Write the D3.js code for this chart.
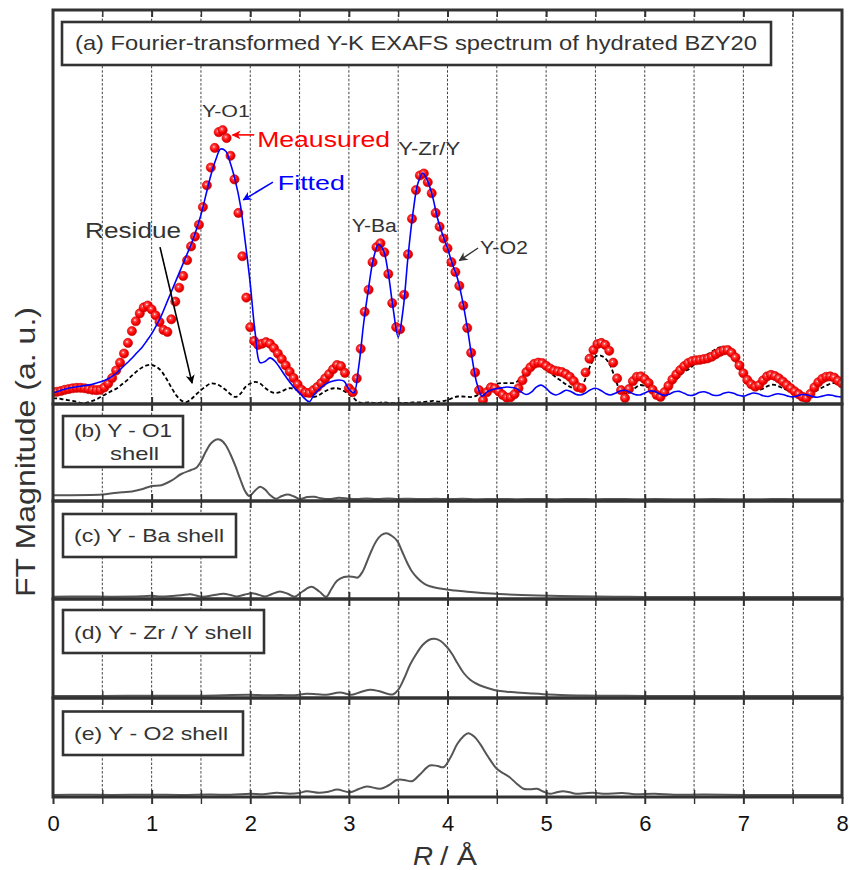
<!DOCTYPE html>
<html>
<head>
<meta charset="utf-8">
<script src="https://cdn.jsdelivr.net/npm/d3@7"></script>
<style>
    body { margin: 0; background: #ffffff; }
    svg { display: block; font-family: Arial, 'Liberation Sans', Helvetica, sans-serif; }
</style>
</head>
<body>
<svg id="chart" width="850" height="870"></svg>
<script>
'use strict';

/* ---------------- data (arbitrary units) ---------------- */

// measured |FT| (red balls), one value every 0.04 A starting at R = 0
var measuredStep = 0.04;
var measured = [
    3.0, 3.1, 3.3, 3.6, 3.8, 4.0, 4.1, 4.1, 4.0, 3.8,
    3.6, 3.5, 3.6, 4.2, 5.2, 6.6, 8.5, 10.5, 12.8, 15.5,
    18.5, 21.0, 23.0, 24.5, 25.0, 24.0, 22.5, 20.8, 18.8, 18.3,
    21.5, 26.0, 29.5, 32.5, 36.5, 40.0, 42.5, 45.5, 50.0, 55.5,
    60.0, 65.0, 69.0, 69.5, 67.5, 63.0, 57.0, 48.5, 37.5, 27.0,
    19.5, 16.0, 15.0, 15.3, 15.7, 15.3, 14.2, 12.8, 11.4, 9.8,
    8.2, 6.6, 5.0, 3.6, 2.9, 2.8, 3.5, 4.3, 5.3, 6.5,
    7.6, 8.8, 9.9, 9.6, 7.9, 4.0, 3.0, 6.5, 14.0, 23.4,
    29.0, 36.0, 39.8, 40.8, 38.5, 33.0, 25.6, 19.5, 19.0, 27.7,
    38.0, 47.0, 54.3, 58.0, 58.5, 56.3, 53.5, 48.5, 45.0, 42.0,
    39.5, 36.0, 33.5, 30.0, 25.0, 19.3, 13.0, 8.0, 3.5, 1.0,
    3.0, 4.2, 4.0, 3.2, 2.3, 1.6, 1.7, 2.5, 4.0, 6.0,
    8.1, 9.3, 10.2, 10.5, 10.4, 9.7, 9.0, 8.5, 8.3, 8.1,
    7.6, 6.9, 5.8, 4.3, 4.0, 8.0, 11.5, 13.7, 15.2, 15.5,
    15.0, 13.5, 10.5, 6.5, 3.5, 1.5, 3.8, 5.8, 6.9, 7.0,
    6.3, 5.3, 3.6, 2.3, 1.8, 3.0, 4.6, 6.2, 7.5, 8.6,
    9.6, 10.4, 10.9, 11.1, 11.2, 11.4, 11.6, 12.0, 12.6, 13.2,
    13.6, 13.7, 13.0, 11.8, 9.8, 7.8, 6.1, 5.0, 4.4, 4.8,
    6.0, 7.0, 7.4, 7.1, 6.5, 5.7, 4.8, 4.0, 3.2, 2.5,
    1.8, 1.5, 2.6, 4.2, 5.5, 6.4, 6.9, 7.0, 6.7, 5.9,
    5.2
];

// fitted curve (blue) and residue (black dashed), one value every 0.05 A
var curveStep = 0.05;
var fitted = [
    2.8, 3.2, 3.6, 4.0, 4.2, 4.4, 4.6, 4.8, 5.0, 5.4,
    5.8, 6.3, 7.0, 8.0, 9.2, 10.4, 11.6, 13.0, 14.3, 16.0,
    17.8, 20.0, 22.5, 25.5, 28.5, 31.5, 34.5, 37.5, 40.5, 44.0,
    48.0, 53.0, 58.0, 62.0, 64.7, 64.2, 61.0, 56.5, 50.5, 41.0,
    30.5, 18.0, 10.5, 10.8, 11.7, 10.9, 9.2, 7.3, 5.6, 4.0,
    2.8, 1.4, 0.6, 2.5, 3.8, 4.8, 5.5, 5.9, 6.1, 5.8,
    3.8, 2.8, 9.5, 20.5, 29.5, 37.0, 40.5, 39.0, 33.0, 24.0,
    17.0, 24.0, 37.5, 48.5, 56.0, 58.6, 56.5, 52.5, 47.0, 43.0,
    39.5, 35.5, 32.0, 26.5, 19.5, 11.5, 5.0, 2.0, 3.0, 3.6,
    3.9, 4.1, 4.3, 4.2, 3.9, 3.0, 2.4, 3.0, 4.3, 4.8,
    4.0, 2.8, 2.3, 2.8, 3.5, 3.2, 2.5, 2.3, 2.8, 3.6,
    4.0, 3.5, 2.7, 2.3, 2.7, 3.3, 3.5, 3.0, 2.4, 2.3,
    2.8, 3.3, 3.2, 2.6, 2.2, 2.5, 3.1, 3.2, 2.7, 2.2,
    2.3, 2.9, 3.1, 2.7, 2.2, 2.2, 2.7, 3.0, 2.7, 2.2,
    2.0, 2.4, 2.8, 2.6, 2.1, 1.9, 2.3, 2.6, 2.4, 2.0,
    1.8, 2.1, 2.4, 2.3, 1.9, 1.7, 2.0, 2.3, 2.2, 1.9,
    1.8
];
var residue = [
    1.5, 1.4, 1.2, 1.0, 0.8, 0.5, 0.2, 0.4, 0.8, 1.3,
    2.0, 2.7, 3.4, 4.0, 5.0, 6.0, 7.2, 8.3, 9.2, 9.8,
    9.9, 9.4, 8.3, 6.4, 4.2, 2.2, 0.9, 0.5, 1.2, 2.4,
    3.5, 4.5, 5.2, 5.1, 4.5, 3.6, 2.5, 1.8, 2.6, 4.3,
    5.2, 5.6, 5.2, 4.1, 3.2, 2.8, 3.0, 3.6, 4.0, 3.8,
    3.2, 2.7, 2.1, 1.8, 2.3, 3.1, 3.7, 4.0, 3.9, 3.3,
    2.5, 1.5, 0.4, 0.3, 0.4, 0.3, 0.3, 0.4, 0.3, 0.2,
    0.3, 0.3, 0.3, 0.4, 0.4, 0.5, 0.6, 0.8, 0.6, 0.7,
    1.0, 1.5, 1.9, 1.9, 1.8, 1.8, 2.2, 3.2, 4.0, 4.6,
    5.1, 5.3, 5.3, 5.3, 5.6, 6.7, 7.9, 9.0, 9.9, 9.6,
    8.8, 7.8, 6.8, 5.9, 5.0, 4.3, 4.0, 4.2, 6.5, 9.8,
    12.0, 12.3, 11.6, 9.8, 6.5, 3.5, 2.7, 3.0, 4.0, 4.8,
    4.6, 4.0, 3.0, 2.3, 2.8, 4.2, 5.6, 7.0, 8.2, 8.9,
    10.0, 11.0, 11.9, 12.8, 13.6, 14.3, 14.4, 13.6, 11.8, 9.4,
    7.2, 5.3, 4.0, 3.5, 3.9, 4.6, 4.9, 4.6, 4.0, 3.5,
    3.0, 2.7, 2.4, 2.3, 2.7, 3.5, 4.2, 4.8, 5.3, 5.2,
    4.8
];

// single-shell contributions, [R, |FT|] pairs
var shellO1 = [
    [0, 4.3], [0.5, 5.0], [0.6, 6.2], [0.7, 7.2], [0.8, 8.0], [0.9, 10.2], [1.0, 13.5],
    [1.1, 14.3], [1.2, 18.8], [1.3, 25.5], [1.4, 29.5], [1.45, 31.5], [1.5, 38], [1.55, 48],
    [1.6, 56], [1.65, 59.8], [1.7, 59.5], [1.75, 54.5], [1.8, 45], [1.85, 33.3], [1.9, 20],
    [1.95, 8], [1.99, 3.5], [2.05, 9], [2.1, 12.7], [2.15, 10], [2.2, 4.5], [2.26, 0.8],
    [2.32, 3.5], [2.38, 5], [2.44, 3.2], [2.5, 0.5], [2.58, 2.4], [2.65, 2.7], [2.72, 1.2],
    [2.8, 0.4], [2.9, 1.8], [3.0, 0.8], [3.08, 0.4], [3.18, 1.1], [3.28, 0.4], [3.4, 0.9],
    [3.5, 0.5], [3.62, 0.8], [3.75, 0.4], [3.88, 0.8], [4.0, 0.4], [4.15, 0.7], [4.3, 0.3],
    [4.5, 0.6], [4.7, 0.3], [4.9, 0.5], [5.1, 0.3], [5.3, 0.5], [5.5, 0.3], [5.7, 0.5],
    [5.9, 0.3], [6.1, 0.4], [6.4, 0.3], [6.7, 0.4], [7.0, 0.3], [7.3, 0.4], [7.6, 0.3], [8.0, 0.3]
];
var shellBa = [
    [0, 0.8], [0.3, 1.0], [0.6, 0.8], [0.9, 1.2], [1.0, 1.7], [1.1, 1.0], [1.2, 1.5], [1.3, 2.2],
    [1.39, 3.3], [1.46, 1.8], [1.52, 0.7], [1.62, 2.2], [1.73, 3.7], [1.8, 2.5], [1.86, 1.0],
    [1.94, 2.8], [2.02, 4.3], [2.09, 2.6], [2.15, 1.0], [2.22, 3.5], [2.3, 6.0], [2.38, 3.8],
    [2.45, 0.8], [2.53, 6.0], [2.62, 10.7], [2.7, 6.0], [2.77, 0.7], [2.82, 8.0], [2.88, 16.7],
    [2.95, 20.5], [3.0, 21], [3.05, 20.5], [3.09, 20], [3.14, 26], [3.18, 35], [3.23, 47],
    [3.28, 56.7], [3.33, 62.5], [3.38, 64.3], [3.43, 62], [3.49, 56.7], [3.54, 46], [3.59, 35],
    [3.64, 26], [3.69, 20], [3.74, 15.5], [3.79, 12.4], [3.87, 10], [3.96, 8.4], [4.08, 7],
    [4.2, 5.7], [4.35, 4.5], [4.53, 3.4], [4.75, 2.5], [5.04, 1.7], [5.3, 1.2], [5.7, 0.7],
    [6.0, 0.6], [6.5, 0.5], [7.0, 0.6], [7.5, 0.5], [8.0, 0.5]
];
var shellZrY = [
    [0, 0.5], [0.5, 0.6], [1.0, 0.7], [1.5, 0.8], [2.0, 1.7], [2.15, 1.2], [2.3, 1.5], [2.45, 1.3],
    [2.57, 2.7], [2.68, 2.2], [2.77, 1.7], [2.91, 4.0], [3.03, 1.7], [3.12, 4.5], [3.21, 6.7],
    [3.3, 5.5], [3.4, 2.5], [3.45, 2.3], [3.5, 6.7], [3.56, 18], [3.62, 31.7], [3.68, 42],
    [3.75, 51.7], [3.81, 56.5], [3.87, 57.7], [3.93, 55.5], [3.99, 50], [4.05, 42], [4.1, 33.4],
    [4.16, 24], [4.23, 16.7], [4.3, 12.5], [4.36, 10], [4.43, 7.8], [4.5, 6], [4.6, 4.8],
    [4.7, 4], [4.85, 3], [4.97, 2.3], [5.15, 1.6], [5.37, 1.0], [5.7, 0.7], [6.0, 0.6],
    [6.5, 0.5], [7.0, 0.5], [7.5, 0.4], [8.0, 0.4]
];
var shellO2 = [
    [0, 0.5], [0.3, 0.7], [0.6, 0.5], [1.0, 0.8], [1.3, 0.6], [1.6, 1.0], [1.8, 0.7], [2.0, 1.7],
    [2.13, 1.2], [2.27, 2.7], [2.4, 1.7], [2.5, 2.5], [2.57, 4.3], [2.7, 2.7], [2.8, 4.0],
    [2.88, 6], [3.01, 3.3], [3.1, 6.5], [3.18, 9], [3.32, 6.7], [3.4, 10], [3.49, 15.7],
    [3.56, 15.5], [3.64, 14.3], [3.72, 21], [3.82, 30], [3.9, 29.5], [3.96, 28.3], [4.03, 38],
    [4.1, 51.7], [4.16, 59], [4.21, 62.3], [4.27, 59], [4.33, 51.7], [4.41, 39], [4.5, 26.7],
    [4.57, 22], [4.63, 18.3], [4.7, 12], [4.77, 6.7], [4.84, 6.3], [4.91, 6.7], [4.97, 4],
    [5.04, 1.7], [5.1, 3], [5.17, 4.3], [5.24, 3.2], [5.3, 1.7], [5.39, 2.2], [5.47, 2.7],
    [5.53, 2.2], [5.6, 1.7], [5.77, 2.5], [5.9, 1.3], [6.1, 1.8], [6.3, 0.8], [6.6, 1.0],
    [7.0, 0.6], [7.5, 0.5], [8.0, 0.4]
];

var tickLabels = [0, 1, 2, 3, 4, 5, 6, 7, 8];
var halfSteps = [0.5, 1, 1.5, 2, 2.5, 3, 3.5, 4, 4.5, 5, 5.5, 6, 6.5, 7, 7.5];

/* ---------------- layout ---------------- */

var ink = '#333333';
var left = 53;
var right = 842;
// top edge of panels a..e and bottom edge of the stack
var panelEdges = [10, 404, 501, 599, 698, 797];

var svg = d3.select('#chart');
var defs = svg.append('defs');

var x = d3.scaleLinear().domain([0, 8]).range([left, right]);
var yTop = d3.scaleLinear().domain([0, 100]).range([panelEdges[1], panelEdges[0]]);

/**
 * Append a text, optionally stretched to a given width
 */
var addText = function(parent, str, px, py, size, width, color) {
    var t = parent.append('text')
            .attr('x', px)
            .attr('y', py)
            .attr('font-size', size)
            .attr('fill', color || ink)
            .text(str);
    if (width) {
        t.attr('textLength', width).attr('lengthAdjust', 'spacingAndGlyphs');
    }
    return t;
};

// red ball gradient for measured points
var grad = defs.append('radialGradient')
        .attr('id', 'ball')
        .attr('cx', '40%').attr('cy', '38%').attr('r', '62%');
grad.append('stop').attr('offset', '0%').attr('stop-color', '#ffffff');
grad.append('stop').attr('offset', '22%').attr('stop-color', '#ff4a4a');
grad.append('stop').attr('offset', '65%').attr('stop-color', '#ff0000');
grad.append('stop').attr('offset', '100%').attr('stop-color', '#c80000');

// arrow heads
[['arrRed', '#ff0000'], ['arrBlue', '#0000ff'], ['arrBlack', '#000000'], ['arrGray', ink]].forEach(function(m) {
    defs.append('marker')
            .attr('id', m[0])
            .attr('viewBox', '0 0 10 10')
            .attr('refX', 9)
            .attr('refY', 5)
            .attr('markerWidth', 11)
            .attr('markerHeight', 9)
            .attr('markerUnits', 'userSpaceOnUse')
            .attr('orient', 'auto')
            .append('path')
            .attr('d', 'M0,0 L10,5 L0,10 L3,5 Z')
            .attr('fill', m[1]);
});

// clip paths, one per panel
for (var _p = 0; _p < 5; _p++) {
    defs.append('clipPath')
            .attr('id', 'clip' + _p)
            .append('rect')
            .attr('x', left)
            .attr('y', panelEdges[_p])
            .attr('width', right - left)
            .attr('height', panelEdges[_p + 1] - panelEdges[_p]);
}

/* ---------------- grid lines ---------------- */

var grid = svg.append('g');
for (var _g = 0; _g < 5; _g++) {
    grid.selectAll('line.g' + _g)
            .data(halfSteps)
            .enter()
            .append('line')
            .attr('class', 'g' + _g)
            .attr('x1', function(d) { return x(d); })
            .attr('x2', function(d) { return x(d); })
            .attr('y1', panelEdges[_g])
            .attr('y2', panelEdges[_g + 1])
            .attr('stroke', '#444')
            .attr('stroke-width', 1)
            .attr('stroke-dasharray', '2.5,1.8');
}

/* ---------------- panel (a) ---------------- */

var pa = svg.append('g').attr('clip-path', 'url(#clip0)');

var measuredPts = measured.map(function(v, i) { return [i * measuredStep, v]; });
var fittedPts = fitted.map(function(v, i) { return [i * curveStep, v]; });
var residuePts = residue.map(function(v, i) { return [i * curveStep, v]; });

var lineTop = d3.line()
        .x(function(d) { return x(d[0]); })
        .y(function(d) { return yTop(d[1]); })
        .curve(d3.curveCatmullRom);

pa.append('path')
        .datum(residuePts)
        .attr('d', lineTop)
        .attr('fill', 'none')
        .attr('stroke', '#000')
        .attr('stroke-width', 1.8)
        .attr('stroke-dasharray', '4,2.5');

pa.selectAll('circle.meas')
        .data(measuredPts)
        .enter()
        .append('circle')
        .attr('class', 'meas')
        .attr('cx', function(d) { return x(d[0]); })
        .attr('cy', function(d) { return yTop(d[1]); })
        .attr('r', 4.6)
        .attr('fill', 'url(#ball)')
        .attr('stroke', '#d00000')
        .attr('stroke-width', 0.6);

pa.append('path')
        .datum(fittedPts)
        .attr('d', lineTop)
        .attr('fill', 'none')
        .attr('stroke', '#0000ff')
        .attr('stroke-width', 1.6);

// annotations of panel (a), placed in data units
var ann = svg.append('g');
ann.append('rect')
        .attr('x', 62).attr('y', 22).attr('width', 709).attr('height', 43)
        .attr('fill', '#fff').attr('stroke', ink).attr('stroke-width', 2.6);
addText(ann, '(a) Fourier-transformed Y-K EXAFS spectrum of hydrated BZY20', 75, 50, 21, 682);

addText(ann, 'Y-O1', x(1.51), yTop(72.8), 17, 48);
addText(ann, 'Meausured', x(2.07), yTop(65.2), 22, 133, '#ff0000');
addText(ann, 'Fitted', x(2.28), yTop(54.3), 21, 67, '#0000ff');
addText(ann, 'Residue', x(0.325), yTop(42.1), 22, 96);
addText(ann, 'Y-Ba', x(3.03), yTop(43.7), 18, 45);
addText(ann, 'Y-Zr/Y', x(3.5), yTop(63.2), 18, 62);
addText(ann, 'Y-O2', x(4.33), yTop(38.1), 18, 48);

var arrows = [
    {from: [2.04, 68.3], to: [1.82, 68.3], marker: 'arrRed', color: '#ff0000', w: 1.6},
    {from: [2.23, 56.3], to: [1.93, 51.8], marker: 'arrBlue', color: '#0000ff', w: 1.6},
    {from: [1.085, 39.8], to: [1.41, 5.3], marker: 'arrBlack', color: '#000000', w: 1.6},
    {from: [4.31, 39.6], to: [4.12, 36.4], marker: 'arrGray', color: ink, w: 1.4}
];
ann.selectAll('line.arrow')
        .data(arrows)
        .enter()
        .append('line')
        .attr('class', 'arrow')
        .attr('x1', function(d) { return x(d.from[0]); })
        .attr('y1', function(d) { return yTop(d.from[1]); })
        .attr('x2', function(d) { return x(d.to[0]); })
        .attr('y2', function(d) { return yTop(d.to[1]); })
        .attr('stroke', function(d) { return d.color; })
        .attr('stroke-width', function(d) { return d.w; })
        .attr('marker-end', function(d) { return 'url(#' + d.marker + ')'; });

/* ---------------- panels (b)-(e) ---------------- */

var shells = [shellO1, shellBa, shellZrY, shellO2];
shells.forEach(function(shell, i) {
    var bottom = panelEdges[i + 2];
    var yShell = d3.scaleLinear().domain([0, 100]).range([bottom - 1.5, bottom - 101.5]);
    svg.append('g')
            .attr('clip-path', 'url(#clip' + (i + 1) + ')')
            .append('path')
            .datum(shell)
            .attr('d', d3.line()
                    .x(function(d) { return x(d[0]); })
                    .y(function(d) { return yShell(d[1]); })
                    .curve(d3.curveCatmullRom))
            .attr('fill', 'none')
            .attr('stroke', '#555')
            .attr('stroke-width', 2);
});

// shell label boxes
var boxes = [
    {x: 63, y: 416, w: 120, h: 51, lines: [['(b) Y - O1', 74, 437, 98], ['shell', 110, 460, 49]]},
    {x: 63, y: 514, w: 173, h: 43, lines: [['(c) Y - Ba shell', 74, 542, 150]]},
    {x: 63, y: 610, w: 201, h: 43, lines: [['(d) Y - Zr / Y shell', 74, 638.5, 178]]},
    {x: 63, y: 711.5, w: 180, h: 43.5, lines: [['(e) Y - O2 shell', 74, 739.5, 154]]}
];
boxes.forEach(function(b) {
    var g = svg.append('g');
    g.append('rect')
            .attr('x', b.x).attr('y', b.y).attr('width', b.w).attr('height', b.h)
            .attr('fill', '#fff').attr('stroke', ink).attr('stroke-width', 2.6);
    b.lines.forEach(function(l) {
        addText(g, l[0], l[1], l[2], 19, l[3]);
    });
});

/* ---------------- frames and ticks ---------------- */

var frame = svg.append('g');
for (var _f = 0; _f < 5; _f++) {
    var edgeTop = panelEdges[_f];
    var edgeBot = panelEdges[_f + 1];
    // inward ticks on top and bottom edges
    frame.append('g')
            .attr('transform', 'translate(0,' + edgeTop + ')')
            .call(d3.axisBottom(x).tickValues(halfSteps).tickSize(7).tickFormat(''));
    frame.append('g')
            .attr('transform', 'translate(0,' + edgeBot + ')')
            .call(d3.axisTop(x).tickValues(halfSteps).tickSize(7).tickFormat(''));
    frame.append('rect')
            .attr('x', left).attr('y', edgeTop)
            .attr('width', right - left).attr('height', edgeBot - edgeTop)
            .attr('fill', 'none').attr('stroke', ink).attr('stroke-width', 3);
}
frame.selectAll('.domain').remove();
frame.selectAll('.tick line')
        .attr('stroke', ink)
        .attr('stroke-width', function(d) { return d % 1 === 0 ? 2 : 1.4; });

// bottom axis with outward ticks and labels
var xAxis = svg.append('g')
        .attr('transform', 'translate(0,' + panelEdges[5] + ')')
        .call(d3.axisBottom(x)
                .tickValues([0].concat(halfSteps, [8]))
                .tickSize(7)
                .tickPadding(11)
                .tickFormat(function(d) { return tickLabels.indexOf(d) >= 0 ? d : ''; }));
xAxis.select('.domain').remove();
xAxis.selectAll('.tick line')
        .attr('stroke', ink)
        .attr('stroke-width', function(d) { return d % 1 === 0 ? 2 : 1.4; });
xAxis.selectAll('.tick text')
        .attr('font-family', 'Arial, Liberation Sans, sans-serif')
        .attr('font-size', 22)
        .attr('fill', '#111');

/* ---------------- axis titles ---------------- */

addText(svg, 'FT Magnitude (a. u.)', 35, 597, 28, 290)
        .attr('transform', 'rotate(-90,35,597)');
addText(svg, 'R', 413, 865, 26, 20).attr('font-style', 'italic');
addText(svg, '/ Å', 440, 865, 26, 37);
</script>
</body>
</html>
